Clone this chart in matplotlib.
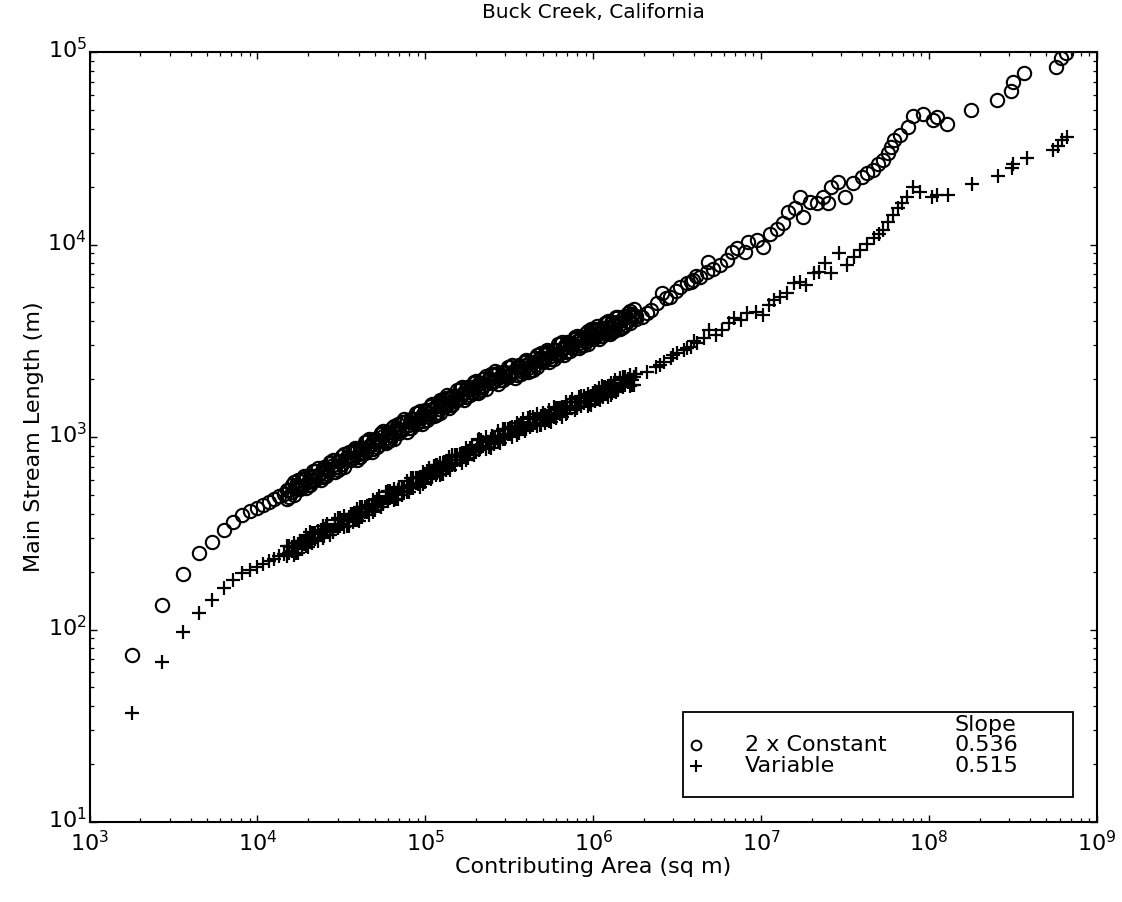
import matplotlib
matplotlib.use("Agg")
import matplotlib.pyplot as plt
from matplotlib.patches import Rectangle
from matplotlib.transforms import ScaledTranslation
from matplotlib.ticker import FixedLocator, LogFormatterSciNotation, NullFormatter

plt.rcParams['font.family'] = ['DejaVu Sans']
plt.rcParams['mathtext.fontset'] = 'dejavusans'

# ---------------- data ----------------
title = "Buck Creek, California"
xlabel = "Contributing Area (sq m)"
ylabel = "Main Stream Length (m)"
series_names = ["2 x Constant", "Variable"]
series_slopes = ["0.536", "0.515"]
x_decades = [1e3, 1e4, 1e5, 1e6, 1e7, 1e8, 1e9]
y_decades = [1e1, 1e2, 1e3, 1e4, 1e5]

# smallest basins (shared areas)
area_low = [1800, 2700, 3600, 4500, 5400, 6300, 7200, 8100, 9000, 9900,
            10800, 11700, 12600, 13500, 14400]
len_const_low = [73.8, 134, 194, 249, 285, 329, 361, 394, 413, 428,
                 443, 460, 476, 494, 506]
len_var_low = [36.8, 67.8, 97, 122, 142, 164, 181, 197, 204, 211,
               219, 227, 233, 241, 247]

# dense band: areas (shared by both series)
area_band = [1.5e4, 1.6e4, 1.7e4, 1.8e4, 1.9e4, 2.0e4, 2.1e4, 2.2e4, 2.4e4, 2.5e4,
             2.6e4, 2.8e4, 3.0e4, 3.2e4, 3.4e4, 3.6e4, 3.8e4, 4.0e4, 4.2e4, 4.5e4,
             4.8e4, 5.0e4, 5.3e4, 5.6e4, 6.0e4, 6.3e4, 6.7e4, 7.0e4, 7.5e4, 8.0e4,
             8.5e4, 9.0e4, 9.5e4,
             1.0e5, 1.05e5, 1.1e5, 1.15e5, 1.2e5, 1.25e5, 1.3e5, 1.35e5, 1.4e5, 1.5e5,
             1.6e5, 1.7e5, 1.8e5, 1.9e5, 2.0e5, 2.1e5, 2.2e5, 2.4e5, 2.5e5, 2.6e5,
             2.8e5, 3.0e5, 3.2e5, 3.4e5, 3.6e5, 3.8e5, 4.0e5, 4.2e5, 4.5e5, 4.8e5,
             5.0e5, 5.3e5, 5.6e5, 6.0e5, 6.3e5, 6.7e5, 7.0e5, 7.5e5, 8.0e5, 8.5e5,
             9.0e5, 9.5e5,
             1.0e6, 1.05e6, 1.1e6, 1.15e6, 1.2e6, 1.25e6, 1.3e6, 1.35e6, 1.4e6, 1.5e6,
             1.6e6, 1.7e6, 1.8e6]
area_band2 = [1.55e4, 1.65e4, 1.75e4, 1.85e4, 1.95e4, 2.05e4, 2.15e4, 2.3e4, 2.45e4, 2.55e4,
              2.7e4, 2.9e4, 3.1e4, 3.3e4, 3.5e4, 3.7e4, 3.9e4, 4.1e4, 4.35e4, 4.65e4,
              4.9e4, 5.15e4, 5.45e4, 5.8e4, 6.15e4, 6.5e4, 6.85e4, 7.25e4, 7.75e4, 8.25e4,
              8.75e4, 9.25e4, 9.75e4,
              1.025e5, 1.075e5, 1.125e5, 1.175e5, 1.225e5, 1.275e5, 1.325e5, 1.375e5, 1.45e5, 1.55e5,
              1.65e5, 1.75e5, 1.85e5, 1.95e5, 2.05e5, 2.15e5, 2.3e5, 2.45e5, 2.55e5, 2.7e5,
              2.9e5, 3.1e5, 3.3e5, 3.5e5, 3.7e5, 3.9e5, 4.1e5, 4.35e5, 4.65e5, 4.9e5,
              5.15e5, 5.45e5, 5.8e5, 6.15e5, 6.5e5, 6.85e5, 7.25e5, 7.75e5, 8.25e5, 8.75e5,
              9.25e5, 9.75e5,
              1.025e6, 1.075e6, 1.125e6, 1.175e6, 1.225e6, 1.275e6, 1.325e6, 1.375e6, 1.45e6, 1.55e6,
              1.65e6, 1.75e6]

# dense band: "2 x Constant" lengths
len_const_band = [533, 518, 553, 538, 610, 587, 624, 601, 653, 693,
                  644, 713, 752, 728, 776, 755, 853, 820, 873, 853,
                  916, 973, 914, 1007, 1062, 1021, 1091, 1054, 1199, 1161,
                  1239, 1199, 1282,
                  1368, 1276, 1396, 1455, 1393, 1476, 1426, 1596, 1524, 1637,
                  1592, 1702, 1816, 1690, 1845, 1919, 1837, 1977, 1901, 2128,
                  2051, 2173, 2089, 2213, 2344, 2178, 2360, 2443, 2366, 2529,
                  2438, 2754, 2649, 2831, 2729, 2917, 3083, 2884, 3162, 3296,
                  3170, 3357,
                  3243, 3639, 3475, 3681, 3524, 3733, 3945, 3656, 3963, 4159,
                  4018, 4276, 4102]
len_const_band_b = [479, 566, 564, 556, 630, 564, 593, 668, 597, 697,
                    675, 759, 675, 796, 791, 780, 881, 787, 830, 948,
                    838, 977, 957, 1072, 953, 1117, 1112, 1089, 1239, 1114,
                    1178, 1334, 1172,
                    1374, 1337, 1486, 1306, 1524, 1503, 1472, 1648, 1462, 1556,
                    1770, 1556, 1824, 1770, 1963, 1722, 2009, 2014, 1963, 2198,
                    1968, 2065, 2323, 2023, 2355, 2280, 2512, 2193, 2588, 2576,
                    2518, 2844, 2541, 2692, 3034, 2667, 3097, 3020, 3365, 2958,
                    3467, 3420,
                    3350, 3758, 3334, 3499, 3917, 3412, 3963, 3828, 4217, 3733,
                    4395, 4355, 4236]
len_const_band2 = [489, 581, 546, 607, 541, 622, 589, 693, 617, 681,
                   739, 660, 688, 817, 766, 850, 756, 870, 830, 977,
                   866, 960, 1046, 932, 968, 1147, 1073, 1191, 1067, 1233,
                   1172, 1371, 1215,
                   1346, 1455, 1285, 1324, 1557, 1450, 1598, 1409, 1624, 1552,
                   1820, 1613, 1784, 1925, 1696, 1746, 2070, 1939, 2131, 1888,
                   2171, 2049, 2377, 2089, 2301, 2472, 2166, 2237, 2658, 2483,
                   2746, 2441, 2815, 2673, 3119, 2752, 3038, 3293, 2911, 3006,
                   3544, 3300,
                   3639, 3214, 3677, 3463, 4009, 3519, 3869, 4150, 3661, 3802,
                   4503, 4188]
len_const_band2_b = [533, 497, 596, 553, 615, 565, 667, 635, 683, 627,
                     729, 698, 751, 698, 836, 775, 860, 790, 940, 895,
                     958, 884, 1031, 985, 1057, 981, 1171, 1086, 1213, 1119,
                     1327, 1256, 1320,
                     1222, 1469, 1303, 1445, 1332, 1583, 1457, 1603, 1474, 1758,
                     1667, 1784, 1643, 1899, 1792, 1905, 1770, 2116, 1943, 2148,
                     1970, 2320, 2178, 2312, 2118, 2438, 2288, 2441, 2315, 2735,
                     2573, 2776, 2556, 3027, 2858, 3045, 2796, 3248, 3076, 3281,
                     3031, 3635,
                     3323, 3656, 3338, 3922, 3711, 3895, 3560, 4188, 3869, 4227,
                     3904, 4613]

# dense band: "Variable" lengths
len_var_band = [242, 267, 265, 289, 277, 293, 282, 316, 313, 332,
                341, 327, 335, 370, 366, 399, 381, 396, 382, 435,
                426, 451, 476, 454, 466, 511, 507, 548, 527, 561,
                542, 611, 596,
                634, 665, 630, 638, 697, 685, 741, 701, 736, 716,
                811, 791, 841, 881, 851, 861, 940, 940, 1012, 957,
                1014, 973, 1114, 1076, 1138, 1189, 1114, 1122, 1239, 1230,
                1327, 1230, 1300, 1259, 1413, 1377, 1452, 1514, 1435, 1455,
                1596, 1570,
                1698, 1611, 1690, 1622, 1807, 1746, 1824, 1901, 1782, 1820,
                2004, 1982, 2128]
len_var_band_b = [272, 256, 250, 288, 286, 269, 318, 295, 327, 306,
                  354, 322, 378, 355, 345, 398, 394, 364, 431, 406,
                  445, 416, 494, 448, 525, 490, 478, 547, 545, 515,
                  611, 570, 622,
                  585, 690, 621, 719, 668, 646, 740, 724, 676, 807,
                  757, 826, 776, 914, 839, 971, 902, 885, 1009, 989,
                  931, 1096, 1040, 1125, 1050, 1233, 1099, 1265, 1189, 1159,
                  1324, 1271, 1194, 1419, 1318, 1439, 1340, 1570, 1416, 1641,
                  1531, 1479,
                  1694, 1663, 1552, 1828, 1687, 1824, 1683, 1972, 1758, 2051,
                  1923, 1866, 2123]
len_var_band2 = [273, 245, 278, 263, 310, 284, 317, 287, 345, 321,
                 311, 371, 378, 339, 384, 363, 424, 384, 433, 392,
                 468, 442, 433, 516, 524, 468, 529, 500, 593, 545,
                 611, 550, 657,
                 619, 603, 711, 716, 636, 715, 671, 783, 717, 809,
                 729, 872, 821, 806, 960, 966, 865, 978, 915, 1074,
                 981, 1105, 998, 1183, 1109, 1072, 1254, 1266, 1137, 1282,
                 1189, 1379, 1263, 1416, 1271, 1512, 1414, 1373, 1622, 1637,
                 1457, 1639,
                 1538, 1799, 1635, 1818, 1618, 1908, 1776, 1714, 2021, 2051,
                 1834, 2061]
len_var_band2_b = [250, 283, 250, 288, 273, 320, 299, 325, 299, 344,
                   322, 348, 346, 391, 345, 398, 372, 433, 407, 444,
                   406, 474, 449, 484, 480, 540, 476, 548, 521, 614,
                   575, 622, 569,
                   664, 625, 667, 656, 734, 643, 736, 689, 808, 762,
                   826, 756, 880, 836, 901, 885, 998, 880, 1003, 944,
                   1105, 1041, 1130, 1026, 1189, 1112, 1176, 1160, 1311, 1153,
                   1303, 1212, 1424, 1334, 1439, 1311, 1516, 1424, 1521, 1500,
                   1681, 1474,
                   1726, 1581, 1843, 1744, 1832, 1654, 1904, 1778, 1895, 1871,
                   2087, 1854]

# large basins, "2 x Constant"
area_const_hi = [1.95e6, 2.09e6, 2.2e6, 2.39e6, 2.56e6, 2.7e6, 2.88e6, 3.1e6, 3.30e6, 3.61e6,
                 3.8e6, 3.95e6, 4.1e6, 4.33e6, 4.74e6, 4.84e6, 5.2e6, 5.69e6, 6.24e6, 6.68e6,
                 7.15e6, 8.02e6, 8.38e6, 9.40e6, 1.03e7, 1.13e7, 1.24e7, 1.35e7, 1.45e7, 1.59e7,
                 1.70e7, 1.78e7, 1.95e7, 2.14e7, 2.34e7, 2.51e7, 2.62e7, 2.87e7, 3.15e7, 3.52e7,
                 3.96e7, 4.24e7, 4.64e7, 4.97e7, 5.31e7, 5.69e7, 5.96e7, 6.22e7, 6.67e7, 7.46e7,
                 8.07e7, 9.16e7, 1.05e8, 1.11e8, 1.28e8, 1.77e8, 2.54e8, 3.08e8, 3.15e8, 3.69e8,
                 5.70e8, 6.11e8, 6.53e8]
len_const_hi = [4220, 4400, 4550, 4960, 5580, 5250, 5360, 5750, 6040, 6280,
                6350, 6550, 6900, 6810, 7230, 8150, 7500, 7830, 8300, 9180,
                9550, 9180, 10300, 10500, 9750, 11400, 12100, 12900, 14800, 15400,
                17700, 13900, 16700, 16400, 17700, 16400, 20000, 21200, 17700, 20800,
                22500, 23400, 24400, 26200, 27500, 29800, 32200, 34900, 37100, 40600,
                46600, 47600, 44400, 45800, 42300, 50000, 56400, 63000, 70200, 77400,
                83400, 92700, 98500]

# large basins, "Variable"
area_var_hi = [2.10e6, 2.36e6, 2.5e6, 2.64e6, 2.89e6, 3.0e6, 3.17e6, 3.47e6, 3.6e6, 3.80e6,
               4.0e6, 4.17e6, 4.56e6, 4.89e6, 5.36e6, 5.87e6, 6.43e6, 6.89e6, 7.55e6, 8.26e6,
               9.27e6, 1.02e7, 1.11e7, 1.19e7, 1.30e7, 1.43e7, 1.56e7, 1.70e7, 1.84e7, 2.06e7,
               2.20e7, 2.41e7, 2.59e7, 2.89e7, 3.25e7, 3.56e7, 3.89e7, 4.27e7, 4.67e7, 5.00e7,
               5.35e7, 5.73e7, 6.13e7, 6.56e7, 6.87e7, 7.36e7, 8.05e7, 8.83e7, 1.04e8, 1.11e8,
               1.29e8, 1.79e8, 2.56e8, 3.11e8, 3.17e8, 3.81e8, 5.50e8, 5.89e8, 6.15e8, 6.59e8]
len_var_hi = [2180, 2320, 2380, 2460, 2560, 2680, 2720, 2830, 2900, 2950,
              3150, 3070, 3260, 3600, 3390, 3600, 3900, 4140, 4060, 4400,
              4480, 4310, 4850, 5150, 5360, 5580, 6280, 6410, 6170, 7080,
              7230, 7980, 7080, 9000, 7830, 8650, 9360, 10100, 10800, 11400,
              11900, 13100, 14200, 15400, 16400, 17700, 20000, 18800, 17700, 18100,
              18100, 20600, 22700, 24900, 26200, 28100, 31000, 32500, 34900, 36300]

# ---------------- figure ----------------
W, H = 1122, 902
fig = plt.figure(figsize=(W / 100, H / 100), dpi=100)
ax_l, ax_r, ax_t, ax_b = 89.5, 1097, 52, 822
ax = fig.add_axes([ax_l / W, 1 - ax_b / H, (ax_r - ax_l) / W, (ax_b - ax_t) / H])

circle_kw = dict(linestyle='none', marker='o', markersize=9.6, markerfacecolor='none',
                 markeredgecolor='black', markeredgewidth=1.5)
plus_kw = dict(linestyle='none', marker='+', markersize=10.5, color='black',
               markeredgewidth=1.6)

const_x = area_low + area_band + area_band + area_band2 + area_band2 + area_const_hi
const_y = (len_const_low + len_const_band + len_const_band_b + len_const_band2
           + len_const_band2_b + len_const_hi)
var_x = area_low + area_band + area_band + area_band2 + area_band2 + area_var_hi
var_y = (len_var_low + len_var_band + len_var_band_b + len_var_band2
         + len_var_band2_b + len_var_hi)
ax.plot(const_x, const_y, **circle_kw)
ax.plot(var_x, var_y, **plus_kw)

ax.set_xscale('log')
ax.set_yscale('log')
ax.set_xlim(x_decades[0], x_decades[-1])
ax.set_ylim(y_decades[0], y_decades[-1])

x_minor = [m * d for d in x_decades[:-1] for m in range(2, 10)]
y_minor = [m * d for d in y_decades[:-1] for m in range(2, 10)]
ax.xaxis.set_major_locator(FixedLocator(x_decades))
ax.yaxis.set_major_locator(FixedLocator(y_decades))
ax.xaxis.set_minor_locator(FixedLocator(x_minor))
ax.yaxis.set_minor_locator(FixedLocator(y_minor))
for axis in (ax.xaxis, ax.yaxis):
    axis.set_major_formatter(LogFormatterSciNotation())
    axis.set_minor_formatter(NullFormatter())

ax.tick_params(which='both', direction='in', top=True, right=True, colors='black',
               labelsize=16)
ax.tick_params(which='major', length=5, width=1.0)
ax.tick_params(which='minor', length=2.6, width=0.9)
ax.tick_params(axis='x', pad=6)
ax.tick_params(axis='y', pad=2)
for s in ax.spines.values():
    s.set_linewidth(1.5)

# put the base "10" of the y tick labels on the tick, as in the reference
shift_up = ScaledTranslation(0, 4 / 100, fig.dpi_scale_trans)
for lab in ax.get_yticklabels():
    lab.set_transform(lab.get_transform() + shift_up)

ax.set_xlabel(xlabel, fontsize=16, labelpad=1)
ax.set_ylabel(ylabel, fontsize=16, labelpad=2)
fig.text(593 / W, 1 - 13 / H, title, ha='center', va='center', fontsize=14.5)

# ---------------- legend box ----------------
def fx(px):
    return (px - ax_l) / (ax_r - ax_l)

def fy(py):
    return (ax_b - py) / (ax_b - ax_t)

bx0, bx1, by0, by1 = fx(683), fx(1073), fy(797), fy(712)
ax.add_patch(Rectangle((bx0, by0), bx1 - bx0, by1 - by0, transform=ax.transAxes,
                       facecolor='white', edgecolor='black', linewidth=1.3, zorder=5))
leg_fs = 16
ax.text(fx(955), fy(725), "Slope", transform=ax.transAxes, ha='left', va='center',
        fontsize=leg_fs, zorder=6)
rows_y = [fy(745), fy(766)]
ax.plot([fx(696)], [rows_y[0]], transform=ax.transAxes, marker='o', markersize=7,
        markerfacecolor='none', markeredgecolor='black', markeredgewidth=1.4,
        linestyle='none', clip_on=False, zorder=6)
ax.plot([fx(696)], [rows_y[1]], transform=ax.transAxes, marker='+', markersize=8,
        color='black', markeredgewidth=1.5, linestyle='none', clip_on=False, zorder=6)
for yy, name, slope in zip(rows_y, series_names, series_slopes):
    ax.text(fx(745), yy, name, transform=ax.transAxes, ha='left', va='center',
            fontsize=leg_fs, zorder=6)
    ax.text(fx(955), yy, slope, transform=ax.transAxes, ha='left', va='center',
            fontsize=leg_fs, zorder=6)

fig.savefig("out.png", dpi=100)
